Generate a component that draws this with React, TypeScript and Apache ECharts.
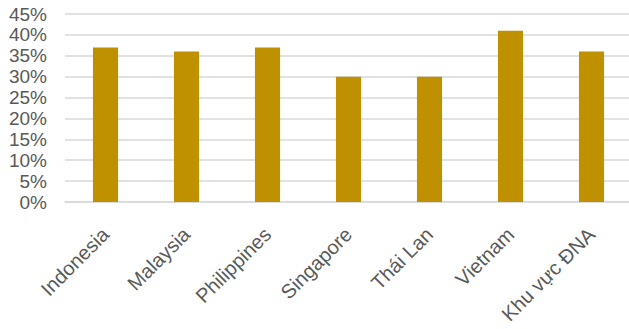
import React, { useEffect, useRef } from "react";
import * as echarts from "echarts";

const categories = ["Indonesia", "Malaysia", "Philippines", "Singapore", "Thái Lan", "Vietnam", "Khu vực ĐNA"];
const values = [37, 36, 37, 30, 30, 41, 36];
const yTicks = [0, 5, 10, 15, 20, 25, 30, 35, 40, 45];

export default function App() {
  const ref = useRef<HTMLDivElement>(null);
  useEffect(() => {
    const chart = echarts.init(ref.current!, null, { renderer: "svg" });
    chart.setOption({
      animation: false,
      grid: { left: 65, right: -3, top: 14, bottom: 127, containLabel: false, outerBoundsMode: "none" },
      xAxis: {
        type: "category",
        data: categories,
        axisLine: { show: true, lineStyle: { color: "#d9d9d9", width: 1.5 } },
        axisTick: { show: false },
        axisLabel: {
          rotate: 45,
          interval: 0,
          margin: 29,
          color: "#595959",
          fontSize: 20,
          fontFamily: "Liberation Sans, Arial, sans-serif",
        },
      },
      yAxis: {
        type: "value",
        min: yTicks[0],
        max: yTicks[yTicks.length - 1],
        interval: 5,
        axisLine: { show: false },
        axisTick: { show: false },
        splitLine: { lineStyle: { color: "#d9d9d9", width: 1.5 } },
        axisLabel: {
          formatter: "{value}%",
          margin: 18,
          color: "#595959",
          fontSize: 19,
          fontFamily: "Liberation Sans, Arial, sans-serif",
        },
      },
      series: [
        {
          type: "bar",
          data: values,
          barWidth: "31%",
          itemStyle: { color: "#BF9000" },
        },
      ],
    });
    return () => chart.dispose();
  }, []);
  return <div ref={ref} style={{ width: 629, height: 329, position: "absolute", left: 0, top: 0 }} />;
}
